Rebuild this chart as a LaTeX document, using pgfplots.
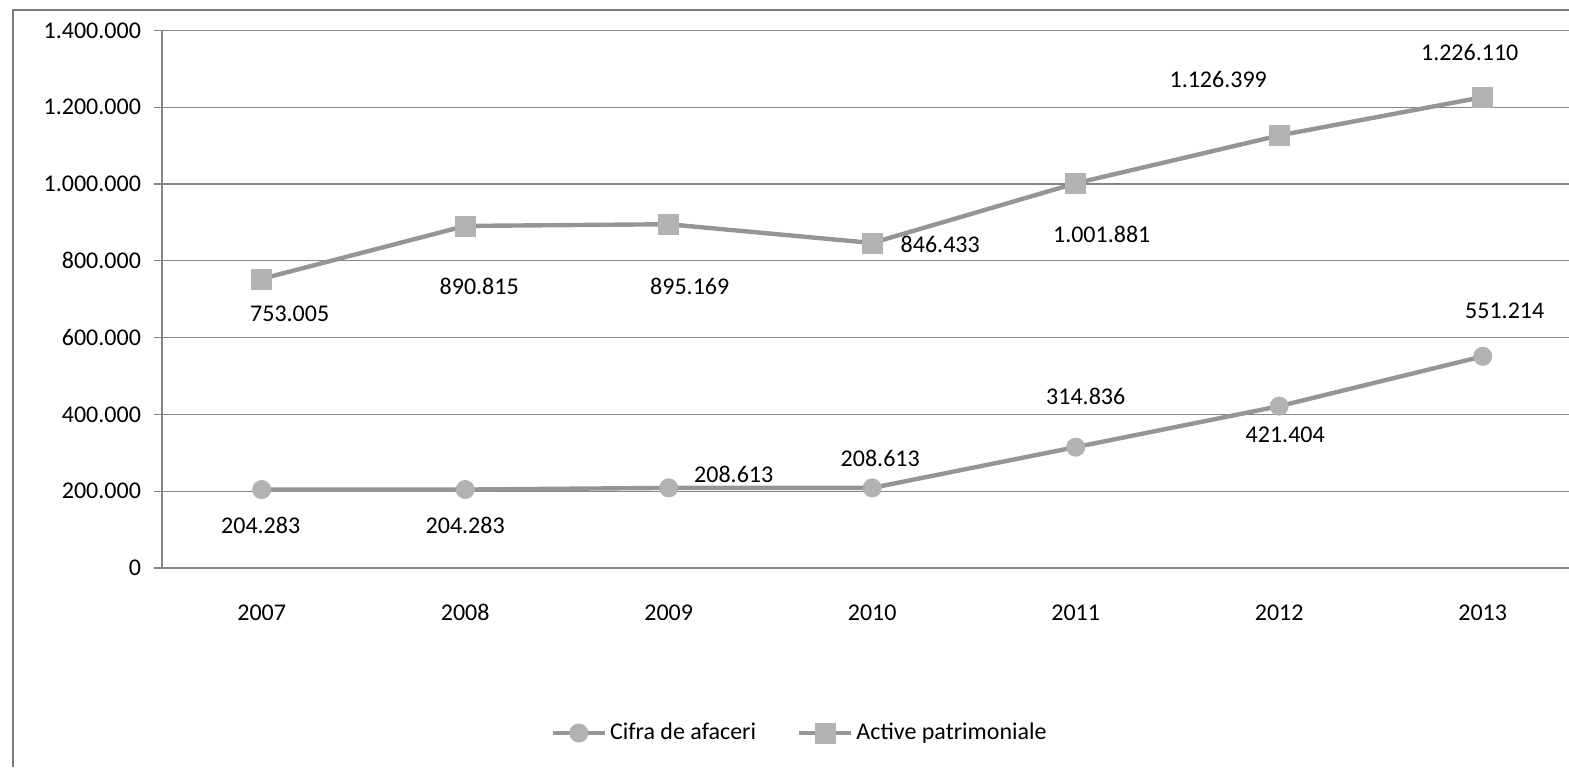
\documentclass[border=0pt]{standalone}
\usepackage{pgfplots}
\pgfplotsset{compat=1.18}
\usepackage{pgfplotstable}
\usepackage{fontspec}
\setmainfont{Carlito}
\definecolor{lineg}{HTML}{959595}
\definecolor{markg}{HTML}{B2B2B2}
\definecolor{gridg}{HTML}{858585}
\definecolor{frameg}{HTML}{7A7A7A}

\pgfplotstableread{
x y lab dx dy
0 204283 204.283 -0.5 -18
1 204283 204.283 0 -18
2 208613 208.613 32.5 6.5
3 208613 208.613 4 15
4 314836 314.836 5 25.5
5 421404 421.404 3 -14.5
6 551214 551.214 11 23
}\cifratab

\pgfplotstableread{
x y lab dx dy
0 753005 753.005 14 -17.5
1 890815 890.815 7 -30
2 895169 895.169 10.5 -31
3 846433 846.433 34 -0.5
4 1001881 1.001.881 13 -25.5
5 1126399 1.126.399 -30.5 28
6 1226110 1.226.110 -6.5 22.5
}\activetab

\begin{document}
\begin{tikzpicture}[font=\fontsize{12}{14}\selectfont]
\path[use as bounding box] (0,0) rectangle (784.5pt,383.5pt);
\draw[frameg, line width=0.8pt] (6.5pt,0) -- (6.5pt,378.5pt) -- (784.5pt,378.5pt);
\begin{axis}[
  at={(81pt,99.5pt)}, anchor=south west,
  scale only axis,
  width=703.5pt, height=268.8pt,
  xmin=-0.49, xmax=6.424,
  ymin=0, ymax=1400000,
  scaled y ticks=false,
  axis x line=bottom, axis y line=left,
  axis line style={gridg, line width=0.6pt, -},
  xtick={0,...,6},
  xticklabels={2007,2008,2009,2010,2011,2012,2013},
  major x tick style={draw=none},
  extra x ticks={0.5,1.5,2.5,3.5,4.5,5.5},
  extra x tick labels={},
  extra x tick style={major tick length=7pt, tick align=outside, tick style={gridg, line width=0.6pt}, grid=none},
  xticklabel style={text height=8pt, text depth=0pt, yshift=-10.5pt},
  ytick={0,200000,400000,600000,800000,1000000,1200000,1400000},
  yticklabels={0,200.000,400.000,600.000,800.000,1.000.000,1.200.000,1.400.000},
  ytick style={gridg, line width=0.6pt},
  major tick length=4pt,
  tick align=outside,
  yticklabel style={xshift=-3pt},
  ymajorgrids,
  grid style={gridg, line width=0.6pt},
  clip=false,
  legend columns=2,
  legend style={at={(rel axis cs:0.4535,-0.307)}, anchor=center, draw=none, fill=none,
    /tikz/every even column/.append style={column sep=19pt},
    nodes={inner sep=1.5pt, text=black}},
  legend image code/.code={\draw[#1, mark repeat=2, mark phase=2] plot coordinates {(0pt,0pt) (13pt,0pt) (26pt,0pt)};},
  lbl/.style={
    point meta=explicit symbolic,
    nodes near coords,
    visualization depends on={\thisrow{dx} \as \mydx},
    visualization depends on={\thisrow{dy} \as \mydy},
    nodes near coords style={anchor=center, xshift=\mydx pt, yshift=\mydy pt, text=black, inner sep=0pt},
  },
]
\addplot[lbl, color=lineg, line width=2.2pt, mark=*, mark size=4.6pt, mark options={fill=markg, draw=markg, line width=0.3pt}]
  table[x=x, y=y, meta=lab] {\cifratab};
\addlegendentry{Cifra de afaceri}
\addplot[lbl, color=lineg, line width=2.2pt, mark=square*, mark size=5pt, mark options={fill=markg, draw=markg, line width=0.3pt}]
  table[x=x, y=y, meta=lab] {\activetab};
\addlegendentry{Active patrimoniale}
\end{axis}
\end{tikzpicture}
\end{document}
